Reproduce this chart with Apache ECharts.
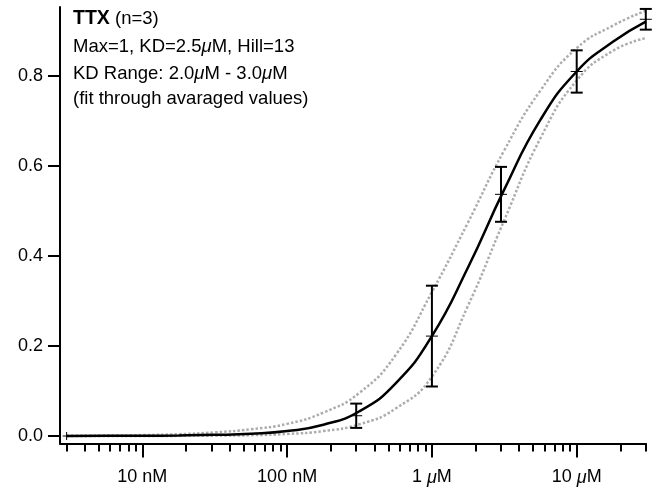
<!DOCTYPE html>
<html><head><meta charset="utf-8">
<script src="https://cdn.jsdelivr.net/npm/echarts@6/dist/echarts.min.js"></script>
<style>html,body{margin:0;padding:0;background:#fff}#c{width:660px;height:488px}</style>
</head><body><div id="c"></div>
<script>
// concentrations in nM
const pointConc = [3, 300, 1000, 3000, 10000, 30000];
const pointMean = [0.000, 0.045, 0.222, 0.537, 0.810, 0.926];
const pointErr  = [0.000, 0.027, 0.112, 0.061, 0.047, 0.023];

const curveConc = [3, 5.62, 10, 17.8, 31.6, 56.2, 100, 178, 316, 562, 1000, 1778, 3162, 5623, 10000, 17783, 30000];
const fitMid    = [0.000, 0.0003, 0.0006, 0.0012, 0.0025, 0.005, 0.011, 0.025, 0.055, 0.117, 0.222, 0.375, 0.548, 0.703, 0.810, 0.876, 0.921];
const fitUpper  = [0.0004, 0.0009, 0.002, 0.004, 0.008, 0.015, 0.027, 0.052, 0.096, 0.180, 0.320, 0.475, 0.635, 0.768, 0.862, 0.912, 0.945];
const fitLower  = [0.000, 0.000, 0.0001, 0.0003, 0.0007, 0.0018, 0.0045, 0.011, 0.026, 0.061, 0.132, 0.290, 0.480, 0.662, 0.790, 0.856, 0.884];

const xMajorTicks  = [10, 100, 1000, 10000];
const xMajorLabels = ['10 nM', '100 nM', '1 {i|\u03bc}M', '10 {i|\u03bc}M'];
const xMinorTicks  = [3,4,5,6,7,8,9, 20,30,40,50,60,70,80,90, 200,300,400,500,600,700,800,900,
                      2000,3000,4000,5000,6000,7000,8000,9000, 20000,30000];
const yTicks      = [0, 0.2, 0.4, 0.6, 0.8];
const yTickLabels = ['0.0', '0.2', '0.4', '0.6', '0.8'];

const annotationLines = [
  '{b|TTX} (n=3)',
  'Max=1, KD=2.5{i|\u03bc}M, Hill=13',
  'KD Range: 2.0{i|\u03bc}M - 3.0{i|\u03bc}M',
  '(fit through avaraged values)'
];

const FONT = '"Liberation Sans", Arial, Helvetica, sans-serif';
const lg = v => Math.log10(v);
const xMin = lg(2.7), xMax = lg(30100);

const curve = arr => curveConc.map((c, i) => [lg(c), arr[i]]);
const pts = pointConc.map((c, i) => [lg(c), pointMean[i], pointErr[i]]);

const chart = echarts.init(document.getElementById('c'), null, {renderer: 'canvas'});
const richI = { i: { fontStyle: 'italic', fontSize: 18, fontFamily: FONT, color: '#000' } };

chart.setOption({
  animation: false,
  backgroundColor: '#fff',
  grid: { left: 60, right: 14, top: 7, bottom: 44.5, containLabel: false },
  xAxis: [
    {
      type: 'value', min: xMin, max: xMax, position: 'bottom',
      axisLine: { show: true, onZero: false, lineStyle: { color: '#000', width: 2 } },
      axisTick: { show: true, length: 14, lineStyle: { color: '#000', width: 2 }, customValues: xMajorTicks.map(lg) },
      axisLabel: {
        show: true, margin: 25, fontSize: 18, fontFamily: FONT, color: '#000',
        customValues: xMajorTicks.map(lg),
        formatter: v => { const i = xMajorTicks.findIndex(t => Math.abs(lg(t) - v) < 1e-6); return i >= 0 ? xMajorLabels[i] : ''; },
        rich: richI
      },
      splitLine: { show: false }
    },
    {
      type: 'value', min: xMin, max: xMax, position: 'bottom',
      axisLine: { show: false, onZero: false },
      axisTick: { show: true, length: 8, lineStyle: { color: '#000', width: 2 }, customValues: xMinorTicks.map(lg) },
      axisLabel: { show: false },
      splitLine: { show: false }
    }
  ],
  yAxis: {
    type: 'value', min: -0.01667, max: 0.9533,
    axisLine: { show: true, onZero: false, lineStyle: { color: '#000', width: 2 } },
    axisTick: { show: true, length: 12, lineStyle: { color: '#000', width: 2 }, customValues: yTicks },
    axisLabel: {
      show: true, margin: 17, fontSize: 18, fontFamily: FONT, color: '#000',
      customValues: yTicks,
      formatter: v => { const i = yTicks.findIndex(t => Math.abs(t - v) < 1e-6); return i >= 0 ? yTickLabels[i] : ''; }
    },
    splitLine: { show: false }
  },
  graphic: annotationLines.map((t, i) => ({
    type: 'text', left: 73, top: [9, 37, 64.5, 89][i],
    style: {
      text: t, fill: '#000', font: '18.5px ' + FONT,
      rich: {
        b: { fontWeight: 'bold', fontSize: 19.5, fontFamily: FONT, fill: '#000' },
        i: { fontStyle: 'italic', fontSize: 18.5, fontFamily: FONT, fill: '#000' }
      }
    }
  })),
  series: [
    {
      type: 'line', data: curve(fitUpper), smooth: 0.5, symbol: 'none',
      lineStyle: { color: '#adadad', width: 2.5, type: [2.5, 2] }, z: 2
    },
    {
      type: 'line', data: curve(fitLower), smooth: 0.5, symbol: 'none',
      lineStyle: { color: '#adadad', width: 2.5, type: [2.5, 2] }, z: 2
    },
    {
      type: 'line', data: curve(fitMid), smooth: 0.5, symbol: 'none',
      lineStyle: { color: '#000', width: 2.5 }, z: 3
    },
    {
      type: 'custom', data: pts, z: 4, clip: false,
      renderItem: (params, api) => {
        const x = api.value(0), m = api.value(1), e = api.value(2);
        const c = api.coord([x, m]);
        const st = { stroke: '#000', lineWidth: 2 };
        const ch = [];
        if (e > 0) {
          const t = api.coord([x, m + e]), b = api.coord([x, m - e]);
          ch.push({ type: 'line', shape: { x1: c[0], y1: t[1], x2: c[0], y2: b[1] }, style: st });
          ch.push({ type: 'line', shape: { x1: c[0] - 6, y1: t[1], x2: c[0] + 6, y2: t[1] }, style: st });
          ch.push({ type: 'line', shape: { x1: c[0] - 6, y1: b[1], x2: c[0] + 6, y2: b[1] }, style: st });
          ch.push({ type: 'line', shape: { x1: c[0] - 6, y1: c[1], x2: c[0] + 6, y2: c[1] }, style: { stroke: '#000', lineWidth: 1 } });
        } else {
          ch.push({ type: 'line', shape: { x1: c[0] - 4, y1: c[1], x2: c[0] + 4, y2: c[1] }, style: { stroke: '#000', lineWidth: 1 } });
          ch.push({ type: 'line', shape: { x1: c[0], y1: c[1] - 4, x2: c[0], y2: c[1] + 4 }, style: { stroke: '#000', lineWidth: 1 } });
        }
        return { type: 'group', children: ch };
      }
    }
  ]
});
</script>
</body></html>
